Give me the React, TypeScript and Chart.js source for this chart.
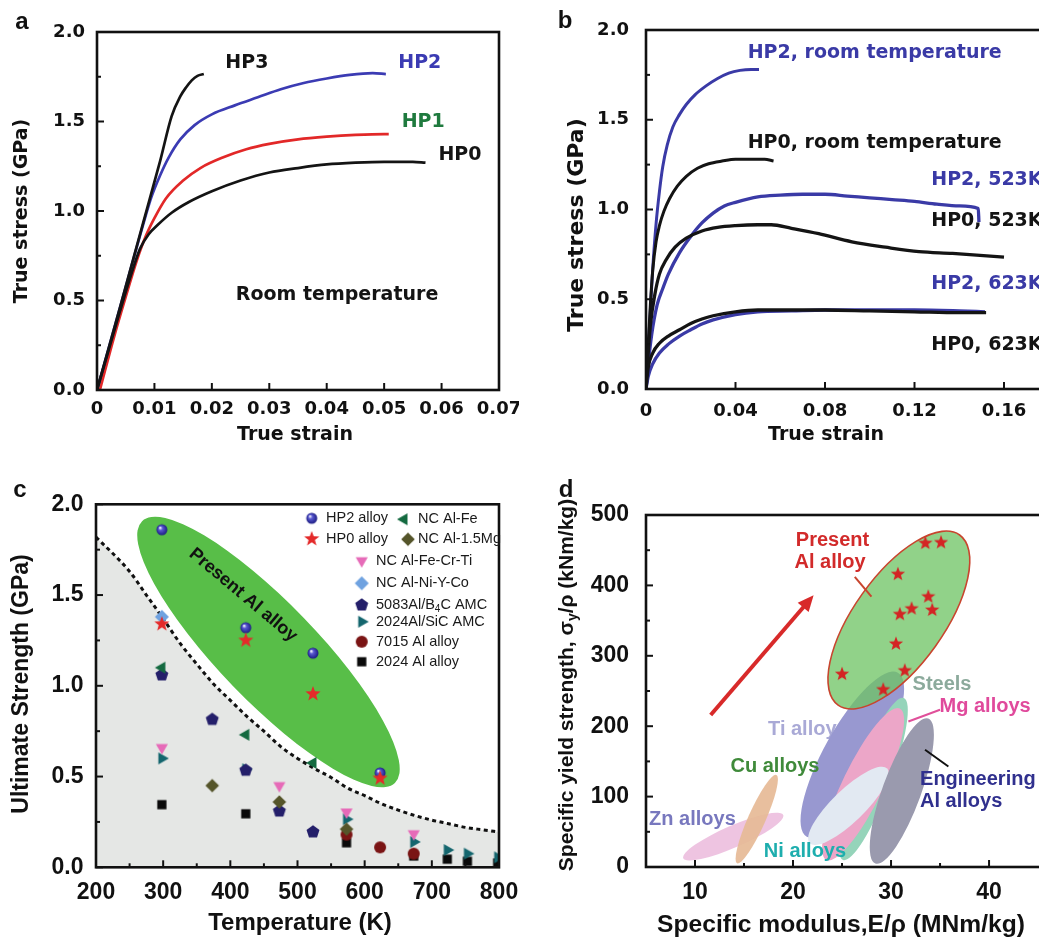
import React, { useEffect, useRef } from 'react';
import { Chart, registerables } from 'chart.js';

Chart.register(...registerables);

const FA = '"DejaVu Sans"';
const FL = '"Liberation Sans"';

// ================= Panel a : room temperature curves =================
const aTicksX = [0, 0.01, 0.02, 0.03, 0.04, 0.05, 0.06, 0.07];
const aTicksY = [0, 0.5, 1.0, 1.5, 2.0];
const aMinorY = [0.25, 0.75, 1.25, 1.75];
const aHP0 = [[0, 0], [0.002, 0.22], [0.004, 0.44], [0.006, 0.65], [0.0075, 0.79], [0.009, 0.87], [0.0105, 0.92], [0.013, 0.99], [0.016, 1.05], [0.02, 1.11], [0.025, 1.17], [0.03, 1.215], [0.035, 1.24], [0.04, 1.26], [0.045, 1.27], [0.05, 1.275], [0.055, 1.275], [0.0572, 1.27]];
const aHP1 = [[0.0005, 0], [0.003, 0.3], [0.005, 0.52], [0.007, 0.73], [0.0085, 0.86], [0.01, 0.96], [0.012, 1.07], [0.015, 1.17], [0.018, 1.24], [0.022, 1.3], [0.026, 1.345], [0.03, 1.375], [0.035, 1.4], [0.04, 1.415], [0.045, 1.425], [0.05, 1.43], [0.0508, 1.43]];
const aHP2 = [[0, 0], [0.004, 0.46], [0.008, 0.92], [0.0095, 1.08], [0.011, 1.2], [0.0125, 1.3], [0.0145, 1.4], [0.017, 1.48], [0.02, 1.54], [0.024, 1.59], [0.028, 1.635], [0.032, 1.68], [0.036, 1.715], [0.04, 1.74], [0.044, 1.76], [0.048, 1.77], [0.0503, 1.765]];
const aHP3 = [[0, 0], [0.004, 0.46], [0.008, 0.93], [0.011, 1.28], [0.013, 1.53], [0.0145, 1.64], [0.0155, 1.69], [0.0165, 1.73], [0.0175, 1.755], [0.0186, 1.765]];

// ================= Panel b : temperature comparison =================
const bTicksX = [0, 0.04, 0.08, 0.12, 0.16];
const bTicksY = [0, 0.5, 1.0, 1.5, 2.0];
const bMinorY = [0.25, 0.75, 1.25, 1.75];
const bHP2RT = [[0, 0], [0.001, 0.22], [0.002, 0.45], [0.003, 0.67], [0.0045, 0.92], [0.006, 1.1], [0.0075, 1.24], [0.0095, 1.36], [0.012, 1.46], [0.015, 1.53], [0.018, 1.585], [0.022, 1.64], [0.027, 1.69], [0.032, 1.73], [0.037, 1.76], [0.042, 1.775], [0.047, 1.78], [0.0505, 1.78]];
const bHP0RT = [[0, 0], [0.001, 0.25], [0.002, 0.48], [0.003, 0.66], [0.0045, 0.82], [0.006, 0.91], [0.008, 0.99], [0.0105, 1.06], [0.014, 1.13], [0.018, 1.185], [0.023, 1.23], [0.028, 1.255], [0.034, 1.27], [0.04, 1.28], [0.047, 1.28], [0.053, 1.28], [0.057, 1.27]];
const bHP2_523 = [[0, 0], [0.001, 0.14], [0.0025, 0.3], [0.005, 0.47], [0.0075, 0.56], [0.01, 0.64], [0.015, 0.76], [0.02, 0.85], [0.025, 0.925], [0.03, 0.98], [0.035, 1.02], [0.04, 1.04], [0.05, 1.07], [0.06, 1.08], [0.07, 1.085], [0.08, 1.085], [0.09, 1.075], [0.1, 1.065], [0.11, 1.055], [0.12, 1.045], [0.13, 1.03], [0.14, 1.02], [0.1485, 1.005], [0.1488, 0.93]];
const bHP0_523 = [[0, 0], [0.001, 0.2], [0.002, 0.36], [0.004, 0.53], [0.006, 0.64], [0.009, 0.72], [0.013, 0.79], [0.018, 0.84], [0.025, 0.88], [0.032, 0.9], [0.04, 0.91], [0.05, 0.915], [0.056, 0.915], [0.065, 0.895], [0.0772, 0.865], [0.092, 0.82], [0.107, 0.79], [0.122, 0.765], [0.137, 0.755], [0.16, 0.735]];
const bHP2_623 = [[0, 0], [0.001, 0.07], [0.003, 0.14], [0.006, 0.2], [0.01, 0.25], [0.015, 0.295], [0.02, 0.33], [0.025, 0.362], [0.03, 0.385], [0.04, 0.415], [0.05, 0.43], [0.065, 0.435], [0.08, 0.44], [0.1, 0.44], [0.12, 0.44], [0.14, 0.435], [0.1515, 0.43]];
const bHP0_623 = [[0, 0], [0.001, 0.12], [0.003, 0.2], [0.006, 0.255], [0.01, 0.295], [0.015, 0.33], [0.02, 0.365], [0.025, 0.39], [0.03, 0.408], [0.04, 0.43], [0.05, 0.44], [0.065, 0.44], [0.08, 0.44], [0.1, 0.435], [0.12, 0.43], [0.14, 0.425], [0.152, 0.425]];

// ================= Panel c : ultimate strength vs temperature =================
const cTicksX = [200, 300, 400, 500, 600, 700, 800];
const cMinorX = [250, 350, 450, 550, 650, 750];
const cTicksY = [0, 0.5, 1.0, 1.5, 2.0];
const cMinorY = [0.25, 0.75, 1.25, 1.75];
const cBoundT = [200, 250, 275, 300, 325, 350, 375, 400, 425, 450, 475, 500, 525, 550, 575, 600, 625, 650, 675, 700, 725, 750, 775, 800];
const cBoundS = [1.82, 1.63, 1.5, 1.37, 1.235, 1.12, 1.01, 0.92, 0.83, 0.75, 0.665, 0.6, 0.545, 0.495, 0.436, 0.395, 0.35, 0.315, 0.285, 0.26, 0.24, 0.22, 0.207, 0.195];
const cHP2T = [298, 423, 523, 623];
const cHP2S = [1.86, 1.32, 1.18, 0.52];
const cHP0T = [298, 423, 523, 623];
const cHP0S = [1.34, 1.25, 0.955, 0.49];
const cAlFeT = [298, 423, 523];
const cAlFeS = [1.1, 0.73, 0.575];
const cAlMgT = [373, 473, 573];
const cAlMgS = [0.45, 0.36, 0.21];
const cFeCrTiT = [298, 473, 573, 673];
const cFeCrTiS = [0.66, 0.45, 0.305, 0.185];
const cNiYCoT = [298];
const cNiYCoS = [1.38];
const c5083T = [298, 373, 423, 473, 523];
const c5083S = [1.06, 0.815, 0.535, 0.31, 0.195];
const cSiCT = [298, 423, 573, 673, 723, 753, 798];
const cSiCS = [0.6, 0.54, 0.265, 0.14, 0.095, 0.075, 0.055];
const c7015T = [573, 623, 673];
const c7015S = [0.18, 0.11, 0.075];
const c2024T = [298, 423, 573, 673, 723, 753, 798];
const c2024S = [0.345, 0.295, 0.135, 0.062, 0.045, 0.033, 0.024];

// ================= Panel d : specific strength vs specific modulus =================
const dTicksX = [10, 20, 30, 40];
const dMinorX = [5, 15, 25, 35];
const dTicksY = [0, 100, 200, 300, 400, 500];
const dMinorY = [50, 150, 250, 350, 450];
const dPresentE = [25.0, 29.2, 31.4, 30.5, 30.9, 32.1, 33.8, 34.2, 30.7, 33.5, 35.1];
const dPresentS = [274, 252, 279, 317, 359, 367, 384, 365, 416, 460, 461];
// property envelopes: [E1, s1, E2, s2, width ratio]
const dZn = [8.8, 12.4, 19.0, 73.9, 0.2];
const dCu = [14.3, 5.3, 18.3, 130.7, 0.18];
const dTi = [21.4, 43, 30.7, 276, 0.3];
const dSteel = [25.1, 10, 31.3, 240, 0.2];
const dMg = [23.4, 10, 30.9, 225, 0.24];
const dNi = [21.7, 33.7, 29.6, 140, 0.3];
const dEngAl = [28.4, 5, 33.8, 211, 0.25];
const dPresentEnv = [24.6, 230, 37.0, 471.6, 0.43];

// ---------------------------------------------------------------------
const xy = (arr: number[][]) => arr.map(([x, y]) => ({ x, y }));
const pts = (xs: number[], ys: number[]) => xs.map((x, i) => ({ x, y: ys[i] }));

function mkCanvas(R: number, fn: (g: CanvasRenderingContext2D, c: number) => void) {
  const size = 2 * Math.ceil(R) + 2;
  const cv = document.createElement('canvas');
  cv.width = size;
  cv.height = size;
  fn(cv.getContext('2d') as CanvasRenderingContext2D, size / 2);
  return cv;
}
function poly(g: CanvasRenderingContext2D, c: number, p: number[][]) {
  g.beginPath();
  p.forEach(([x, y], i) => (i ? g.lineTo(c + x, c + y) : g.moveTo(c + x, c + y)));
  g.closePath();
}
const regular = (n: number, R: number, start: number) =>
  Array.from({ length: n }, (_, k) => {
    const a = start + (k * 2 * Math.PI) / n;
    return [R * Math.cos(a), R * Math.sin(a)];
  });
const starPts = (R: number, r: number) =>
  Array.from({ length: 10 }, (_, k) => {
    const a = -Math.PI / 2 + (k * Math.PI) / 5;
    const rr = k % 2 ? r : R;
    return [rr * Math.cos(a), rr * Math.sin(a)];
  });
const mPoly = (color: string, n: number, R: number, start: number) =>
  mkCanvas(R, (g, c) => {
    poly(g, c, regular(n, R, start));
    g.fillStyle = color;
    g.fill();
  });
const mStar = (color: string, R: number) =>
  mkCanvas(R, (g, c) => {
    poly(g, c, starPts(R, R * 0.42));
    g.fillStyle = color;
    g.fill();
  });
const mCircle = (color: string, R: number) =>
  mkCanvas(R, (g, c) => {
    g.beginPath();
    g.arc(c, c, R, 0, Math.PI * 2);
    g.fillStyle = color;
    g.fill();
  });
const mSphere = (R: number) =>
  mkCanvas(R, (g, c) => {
    const gr = g.createRadialGradient(c - R * 0.35, c - R * 0.4, R * 0.05, c, c, R);
    gr.addColorStop(0, '#ffffff');
    gr.addColorStop(0.35, '#5858d0');
    gr.addColorStop(1, '#1c1c82');
    g.beginPath();
    g.arc(c, c, R, 0, Math.PI * 2);
    g.fillStyle = gr;
    g.fill();
  });

// ---------------------------------------------------------------------
function P(chart: any, x: number, y: number) {
  return [chart.scales.x.getPixelForValue(x), chart.scales.y.getPixelForValue(y)];
}

function drawTxt(chart: any, t: any) {
  const ctx = chart.ctx;
  const [x, y] = t.data ? P(chart, t.x, t.y) : [t.x, t.y];
  ctx.save();
  ctx.translate(x, y);
  if (t.rot) ctx.rotate((t.rot * Math.PI) / 180);
  ctx.fillStyle = t.color || '#111';
  ctx.textBaseline = 'middle';
  ctx.textAlign = 'left';
  const parts = t.parts || [{ t: t.text }];
  const fontOf = (p: any) => (p.sub ? t.subFont : t.font);
  let total = 0;
  const ws = parts.map((p: any) => {
    ctx.font = fontOf(p);
    const w = ctx.measureText(p.t).width;
    total += w;
    return w;
  });
  let cx = t.align === 'left' ? 0 : t.align === 'right' ? -total : -total / 2;
  parts.forEach((p: any, i: number) => {
    ctx.font = fontOf(p);
    ctx.fillText(p.t, cx, p.sub ? t.subDy || 4 : 0);
    cx += ws[i];
  });
  ctx.restore();
}

function drawItem(chart: any, it: any) {
  const ctx = chart.ctx;
  const ca = chart.chartArea;
  ctx.save();
  if (it.kind === 'ell') {
    ctx.beginPath();
    ctx.rect(ca.left, ca.top, ca.right - ca.left, ca.bottom - ca.top);
    ctx.clip();
    const e = it.env;
    const [x1, y1] = P(chart, e[0], e[1]);
    const [x2, y2] = P(chart, e[2], e[3]);
    const a = Math.hypot(x2 - x1, y2 - y1) / 2;
    ctx.beginPath();
    ctx.ellipse((x1 + x2) / 2, (y1 + y2) / 2, a, a * e[4], Math.atan2(y2 - y1, x2 - x1), 0, Math.PI * 2);
    ctx.fillStyle = it.fill;
    ctx.fill();
    if (it.stroke) {
      ctx.strokeStyle = it.stroke;
      ctx.lineWidth = it.lw || 1.5;
      ctx.stroke();
    }
  } else if (it.kind === 'line' || it.kind === 'arrow') {
    const [x1, y1] = P(chart, it.p1[0], it.p1[1]);
    const [x2, y2] = P(chart, it.p2[0], it.p2[1]);
    const ang = Math.atan2(y2 - y1, x2 - x1);
    const head = it.kind === 'arrow' ? it.head : 0;
    ctx.strokeStyle = it.color;
    ctx.fillStyle = it.color;
    ctx.lineWidth = it.lw;
    ctx.beginPath();
    ctx.moveTo(x1, y1);
    ctx.lineTo(x2 - Math.cos(ang) * head * 0.8, y2 - Math.sin(ang) * head * 0.8);
    ctx.stroke();
    if (head) {
      ctx.beginPath();
      ctx.moveTo(x2, y2);
      ctx.lineTo(x2 - Math.cos(ang) * head - Math.sin(ang) * head * 0.45, y2 - Math.sin(ang) * head + Math.cos(ang) * head * 0.45);
      ctx.lineTo(x2 - Math.cos(ang) * head + Math.sin(ang) * head * 0.45, y2 - Math.sin(ang) * head - Math.cos(ang) * head * 0.45);
      ctx.closePath();
      ctx.fill();
    }
  } else if (it.kind === 'txt') {
    drawTxt(chart, it);
  }
  ctx.restore();
}

function makeDecor(cfg: any) {
  return {
    id: 'decor',
    beforeDatasetsDraw(chart: any) {
      (cfg.under || []).forEach((it: any) => drawItem(chart, it));
    },
    afterDatasetDraw(chart: any, args: any) {
      if (cfg.afterFill && args.index === cfg.afterFill.index) cfg.afterFill.items.forEach((it: any) => drawItem(chart, it));
    },
    afterDraw(chart: any) {
      const ctx = chart.ctx;
      const ca = chart.chartArea;
      const xs = chart.scales.x;
      const ys = chart.scales.y;
      ctx.save();
      ctx.strokeStyle = '#111';
      ctx.lineWidth = 2;
      const tk = cfg.ticks;
      const drawX = (vals: number[], len: number) =>
        vals.forEach((v) => {
          const x = xs.getPixelForValue(v);
          ctx.beginPath();
          ctx.moveTo(x, ca.bottom);
          ctx.lineTo(x, ca.bottom - len);
          ctx.stroke();
        });
      const drawY = (vals: number[], len: number) =>
        vals.forEach((v) => {
          const y = ys.getPixelForValue(v);
          ctx.beginPath();
          ctx.moveTo(ca.left, y);
          ctx.lineTo(ca.left + len, y);
          ctx.stroke();
        });
      drawX(tk.xMajor, 7);
      drawX(tk.xMinor, 4);
      drawY(tk.yMajor, 7);
      drawY(tk.yMinor, 4);
      ctx.lineWidth = 2.6;
      ctx.strokeRect(ca.left, ca.top, ca.right - ca.left, ca.bottom - ca.top);
      ctx.restore();
      (cfg.over || []).forEach((it: any) => drawItem(chart, it));
      (cfg.legend || []).forEach((l: any) => {
        const mx = ca.left + l.mx;
        const my = ca.top + l.y;
        ctx.drawImage(l.m, mx - l.m.width / 2, my - l.m.height / 2);
        drawTxt(chart, { ...l.txt, x: ca.left + l.tx, y: my, align: 'left' });
      });
    },
  };
}

function buildScales(o: any) {
  return {
    x: {
      type: 'linear',
      position: 'bottom',
      min: o.xMin,
      max: o.xMax,
      afterBuildTicks: (s: any) => {
        s.ticks = o.xTicks.map((v: number) => ({ value: v }));
      },
      ticks: { callback: o.xFmt, font: o.font, color: '#111', padding: o.xPad, maxRotation: 0, minRotation: 0, autoSkip: false },
      grid: { display: false, drawTicks: false },
      border: { display: false },
      afterFit: (s: any) => {
        s.height = o.xH;
        s.paddingLeft = 0;
        s.paddingRight = 0;
      },
    },
    y: {
      type: 'linear',
      position: 'left',
      min: o.yMin,
      max: o.yMax,
      afterBuildTicks: (s: any) => {
        s.ticks = o.yTicks.map((v: number) => ({ value: v }));
      },
      ticks: { callback: o.yFmt, font: o.font, color: '#111', padding: o.yPad, autoSkip: false },
      grid: { display: false, drawTicks: false },
      border: { display: false },
      afterFit: (s: any) => {
        s.width = o.yW;
        s.paddingTop = 0;
        s.paddingBottom = 0;
      },
    },
  };
}

const baseOptions = (padding: any, scales: any) => ({
  responsive: false,
  maintainAspectRatio: false,
  animation: false,
  events: [],
  layout: { padding, autoPadding: false },
  plugins: { legend: { display: false }, tooltip: { enabled: false }, title: { display: false } },
  scales,
});

const curve = (data: number[][], color: string, width: number) => ({
  data: xy(data),
  showLine: true,
  borderColor: color,
  borderWidth: width,
  pointRadius: 0,
  fill: false,
  cubicInterpolationMode: 'monotone',
});

const BLACK = '#141414';
const BLUE_A = '#3b3bb3';
const RED_A = '#e22828';
const BLUE_B = '#3a3aa6';

function makeA() {
  const tf = { family: FA, size: 18, weight: 'bold' };
  const lab = `bold 19px ${FA}`;
  const decor = makeDecor({
    ticks: { xMajor: aTicksX, xMinor: [], yMajor: aTicksY, yMinor: aMinorY },
    over: [
      { kind: 'txt', text: 'a', x: 22, y: 22, font: `bold 24px ${FL}` },
      { kind: 'txt', text: 'True strain', x: 295, y: 435, font: lab },
      { kind: 'txt', text: 'True stress (GPa)', x: 22, y: 211, rot: -90, font: lab },
      { kind: 'txt', text: 'HP3', data: true, x: 0.0261, y: 1.827, font: lab, color: BLACK },
      { kind: 'txt', text: 'HP2', data: true, x: 0.0562, y: 1.827, font: lab, color: BLUE_A },
      { kind: 'txt', text: 'HP1', data: true, x: 0.0568, y: 1.497, font: lab, color: '#1f7a3e' },
      { kind: 'txt', text: 'HP0', data: true, x: 0.0632, y: 1.313, font: lab, color: BLACK },
      { kind: 'txt', text: 'Room temperature', data: true, x: 0.0418, y: 0.531, font: lab, color: BLACK },
    ],
  });
  return {
    type: 'scatter',
    data: {
      datasets: [curve(aHP3, BLACK, 2.7), curve(aHP0, BLACK, 2.7), curve(aHP2, BLUE_A, 2.7), curve(aHP1, RED_A, 2.7)],
    },
    options: baseOptions(
      { left: 0, top: 32, right: 20, bottom: 0 },
      buildScales({
        xMin: 0, xMax: 0.07, xTicks: aTicksX, xFmt: (v: number) => (v === 0 ? '0' : v.toFixed(2)),
        yMin: 0, yMax: 2, yTicks: aTicksY, yFmt: (v: number) => v.toFixed(1),
        font: tf, xPad: 9, yPad: 12, yW: 97, xH: 79,
      })
    ),
    plugins: [decor],
  };
}

function makeB() {
  const tf = { family: FA, size: 18, weight: 'bold' };
  const lab = `bold 19px ${FA}`;
  const decor = makeDecor({
    ticks: { xMajor: bTicksX, xMinor: [], yMajor: bTicksY, yMinor: bMinorY },
    over: [
      { kind: 'txt', text: 'b', x: 46, y: 21, font: `bold 24px ${FL}` },
      { kind: 'txt', text: 'True strain', x: 307, y: 435, font: lab },
      { kind: 'txt', text: 'True stress (GPa)', x: 58, y: 225, rot: -90, font: `bold 22px ${FA}` },
      { kind: 'txt', text: 'HP2, room temperature', data: true, x: 0.1022, y: 1.87, font: lab, color: BLUE_B },
      { kind: 'txt', text: 'HP0, room temperature', data: true, x: 0.1022, y: 1.369, font: lab, color: BLACK },
      { kind: 'txt', text: 'HP2, 523K', data: true, x: 0.1275, y: 1.164, font: lab, color: BLUE_B, align: 'left' },
      { kind: 'txt', text: 'HP0, 523K', data: true, x: 0.1275, y: 0.936, font: lab, color: BLACK, align: 'left' },
      { kind: 'txt', text: 'HP2, 623K', data: true, x: 0.1275, y: 0.585, font: lab, color: BLUE_B, align: 'left' },
      { kind: 'txt', text: 'HP0, 623K', data: true, x: 0.1275, y: 0.245, font: lab, color: BLACK, align: 'left' },
    ],
  });
  return {
    type: 'scatter',
    data: {
      datasets: [
        curve(bHP0_623, BLACK, 3.3),
        curve(bHP2_623, BLUE_B, 3.3),
        curve(bHP0_523, BLACK, 3.3),
        curve(bHP2_523, BLUE_B, 3.3),
        curve(bHP0RT, BLACK, 3),
        curve(bHP2RT, BLUE_B, 3),
      ],
    },
    options: baseOptions(
      { left: 0, top: 30, right: 30.25, bottom: 0 },
      buildScales({
        xMin: 0, xMax: 0.18, xTicks: bTicksX, xFmt: (v: number) => (v === 0 ? '0' : v.toFixed(2)),
        yMin: 0, yMax: 2, yTicks: bTicksY, yFmt: (v: number) => v.toFixed(1),
        font: tf, xPad: 12, yPad: 17, yW: 127, xH: 80,
      })
    ),
    plugins: [decor],
  };
}

function makeC() {
  const tf = { family: FL, size: 23, weight: 'bold' };
  const m = {
    sphere: mSphere(5.5),
    star: mStar('#e42a2a', 8),
    feL: mPoly('#146a40', 3, 7, Math.PI),
    mgD: mPoly('#55552a', 4, 6.8, -Math.PI / 2),
    ftD: mPoly('#e66bb8', 3, 7, Math.PI / 2),
    niD: mPoly('#6fa2e0', 4, 7, -Math.PI / 2),
    pent: mPoly('#241f6a', 5, 6.8, -Math.PI / 2),
    sicR: mPoly('#14666e', 3, 7, 0),
    c7015: mCircle('#7a1414', 6),
    sq: mPoly('#0a0a0a', 4, 6.5, Math.PI / 4),
  };
  const lf = `14.5px ${FL}`;
  const lt = (text: string) => ({ text, font: lf, color: '#1a1a1a' });
  const scat = (label: string, data: any, style: any, order: number) => ({
    label, data, pointStyle: style, pointRadius: 5, showLine: false, order,
  });
  const decor = makeDecor({
    ticks: { xMajor: cTicksX, xMinor: cMinorX, yMajor: cTicksY, yMinor: cMinorY },
    afterFill: {
      index: 0,
      items: [
        { kind: 'ell', env: [268.6, 1.907, 645.0, 0.465, 0.27], fill: '#58be48' },
        { kind: 'txt', text: 'Present Al alloy', data: true, x: 419, y: 1.5, rot: 40, font: `bold 18px ${FL}`, color: '#111' },
      ],
    },
    over: [
      { kind: 'txt', text: 'c', x: 20, y: 21, font: `bold 24px ${FL}` },
      { kind: 'txt', text: 'Temperature (K)', x: 300, y: 454, font: `bold 24px ${FL}` },
      { kind: 'txt', text: 'Ultimate Strength (GPa)', x: 22, y: 215, rot: -90, font: `bold 23px ${FL}` },
    ],
    legend: [
      { m: m.sphere, mx: 215.7, tx: 230, y: 14, txt: lt('HP2 alloy') },
      { m: m.feL, mx: 308, tx: 322, y: 15, txt: lt('NC Al-Fe') },
      { m: m.star, mx: 215.7, tx: 230, y: 34.7, txt: lt('HP0 alloy') },
      { m: m.mgD, mx: 312, tx: 322, y: 35, txt: lt('NC Al-1.5Mg') },
      { m: m.ftD, mx: 265.7, tx: 280, y: 56.4, txt: lt('NC Al-Fe-Cr-Ti') },
      { m: m.niD, mx: 265.7, tx: 280, y: 79, txt: lt('NC Al-Ni-Y-Co') },
      {
        m: m.pent, mx: 265.7, tx: 280, y: 100.7,
        txt: { parts: [{ t: '5083Al/B' }, { t: '4', sub: true }, { t: 'C AMC' }], font: lf, subFont: `10px ${FL}`, subDy: 4, color: '#1a1a1a' },
      },
      { m: m.sicR, mx: 265.7, tx: 280, y: 117.4, txt: lt('2024Al/SiC AMC') },
      { m: m.c7015, mx: 265.7, tx: 280, y: 137.4, txt: lt('7015 Al alloy') },
      { m: m.sq, mx: 265.7, tx: 280, y: 157.4, txt: lt('2024 Al alloy') },
    ],
  });
  return {
    type: 'scatter',
    data: {
      datasets: [
        {
          label: 'region', data: pts(cBoundT, cBoundS), showLine: true, borderWidth: 0, borderColor: 'rgba(0,0,0,0)',
          pointRadius: 0, fill: 'origin', backgroundColor: '#e5e7e5', cubicInterpolationMode: 'monotone', order: 20,
        },
        {
          label: 'bound', data: pts(cBoundT, cBoundS), showLine: true, borderWidth: 3, borderColor: '#111',
          borderDash: [4, 3.5], pointRadius: 0, fill: false, cubicInterpolationMode: 'monotone', order: 19,
        },
        scat('2024 Al alloy', pts(c2024T, c2024S), m.sq, 10),
        scat('7015 Al alloy', pts(c7015T, c7015S), m.c7015, 9),
        scat('2024Al/SiC AMC', pts(cSiCT, cSiCS), m.sicR, 8),
        scat('5083Al/B4C AMC', pts(c5083T, c5083S), m.pent, 7),
        scat('NC Al-Ni-Y-Co', pts(cNiYCoT, cNiYCoS), m.niD, 6),
        scat('NC Al-Fe-Cr-Ti', pts(cFeCrTiT, cFeCrTiS), m.ftD, 5),
        scat('NC Al-1.5Mg', pts(cAlMgT, cAlMgS), m.mgD, 4),
        scat('NC Al-Fe', pts(cAlFeT, cAlFeS), m.feL, 3),
        scat('HP2 alloy', pts(cHP2T, cHP2S), m.sphere, 2),
        scat('HP0 alloy', pts(cHP0T, cHP0S), m.star, 1),
      ],
    },
    options: baseOptions(
      { left: 0, top: 35.3, right: 20, bottom: 0 },
      buildScales({
        xMin: 200, xMax: 800, xTicks: cTicksX, xFmt: (v: number) => String(v),
        yMin: 0, yMax: 2, yTicks: cTicksY, yFmt: (v: number) => v.toFixed(1),
        font: tf, xPad: 12, yPad: 12.5, yW: 96, xH: 71.7,
      })
    ),
    plugins: [decor],
  };
}

function makeD() {
  const tf = { family: FL, size: 23, weight: 'bold' };
  const lf = `bold 20px ${FL}`;
  const star = mStar('#d42424', 7.5);
  const decor = makeDecor({
    ticks: { xMajor: dTicksX, xMinor: dMinorX, yMajor: dTicksY, yMinor: dMinorY },
    under: [
      { kind: 'ell', env: dZn, fill: 'rgba(236,190,222,0.9)' },
      { kind: 'ell', env: dCu, fill: 'rgba(230,186,150,0.92)' },
      { kind: 'txt', text: 'Ti alloys', data: true, x: 17.45, y: 195, align: 'left', font: lf, color: '#a9a9d6' },
      { kind: 'ell', env: dTi, fill: '#9898d0' },
      { kind: 'ell', env: dSteel, fill: '#95d4ba' },
      { kind: 'ell', env: dMg, fill: '#eca6c8' },
      { kind: 'ell', env: dNi, fill: '#e2e9f2' },
      { kind: 'ell', env: dEngAl, fill: '#9a9aae' },
      { kind: 'ell', env: dPresentEnv, fill: 'rgba(110,196,100,0.76)', stroke: '#c8452e', lw: 1.6 },
      { kind: 'line', p1: [26.3, 412], p2: [28.0, 384], color: '#c8452e', lw: 2 },
      { kind: 'line', p1: [31.77, 206.6], p2: [35.0, 223.3], color: '#e0509a', lw: 2 },
      { kind: 'line', p1: [33.47, 166.5], p2: [35.85, 142.8], color: '#111', lw: 2 },
      { kind: 'arrow', p1: [11.6, 216], p2: [22.1, 386], color: '#d82a2a', lw: 4, head: 16 },
    ],
    over: [
      { kind: 'txt', text: 'd', x: 47, y: 21, font: `bold 24px ${FL}` },
      { kind: 'txt', text: 'Specific modulus,E/\u03c1 (MNm/kg)', x: 322, y: 456, font: `bold 24.6px ${FL}` },
      {
        kind: 'txt', x: 48, y: 216, rot: -90, font: `bold 21px ${FL}`, subFont: `bold 14px ${FL}`, subDy: 6,
        parts: [{ t: 'Specific yield strength, \u03c3' }, { t: 'y', sub: true }, { t: '/\u03c1 (kNm/kg)' }],
      },
      { kind: 'txt', text: 'Present', data: true, x: 24.03, y: 464.5, font: lf, color: '#d22a2a' },
      { kind: 'txt', text: 'Al alloy', data: true, x: 23.78, y: 431.9, font: lf, color: '#d22a2a' },
      { kind: 'txt', text: 'Steels', data: true, x: 35.2, y: 258.7, font: lf, color: '#8caa9c' },
      { kind: 'txt', text: 'Mg alloys', data: true, x: 39.6, y: 227.5, font: lf, color: '#e04a9c' },
      { kind: 'txt', text: 'Cu alloys', data: true, x: 18.16, y: 142.8, font: lf, color: '#3f8a3a' },
      { kind: 'txt', text: 'Zn alloys', data: true, x: 9.74, y: 67.1, font: lf, color: '#7878be' },
      { kind: 'txt', text: 'Ni alloys', data: true, x: 21.22, y: 22.1, font: lf, color: '#1eaeae' },
      { kind: 'txt', text: 'Engineering', data: true, x: 32.96, y: 123.9, align: 'left', font: lf, color: '#30308e' },
      { kind: 'txt', text: 'Al alloys', data: true, x: 32.96, y: 93.1, align: 'left', font: lf, color: '#30308e' },
    ],
  });
  return {
    type: 'scatter',
    data: {
      datasets: [{ label: 'Present Al alloy', data: pts(dPresentE, dPresentS), pointStyle: star, pointRadius: 5, showLine: false }],
    },
    options: baseOptions(
      { left: 0, top: 46, right: 38, bottom: 0 },
      buildScales({
        xMin: 5, xMax: 45.3, xTicks: dTicksX, xFmt: (v: number) => String(v),
        yMin: 0, yMax: 500, yTicks: dTicksY, yFmt: (v: number) => String(v),
        font: tf, xPad: 12, yPad: 17, yW: 127, xH: 72,
      })
    ),
    plugins: [decor],
  };
}

function Panel({ left, top, width, height, make }: any) {
  const ref = useRef<HTMLCanvasElement>(null);
  useEffect(() => {
    const chart = new Chart(ref.current as HTMLCanvasElement, make());
    return () => chart.destroy();
  }, []);
  return (
    <div style={{ position: 'absolute', left, top, width, height }}>
      <canvas ref={ref} width={width} height={height} style={{ width, height, display: 'block' }} />
    </div>
  );
}

export default function App() {
  return (
    <div style={{ position: 'fixed', left: 0, top: 0, width: 1039, height: 939, overflow: 'hidden', background: '#fff' }}>
      <Panel left={0} top={0} width={519} height={469} make={makeA} />
      <Panel left={519} top={0} width={560} height={469} make={makeB} />
      <Panel left={0} top={469} width={519} height={470} make={makeC} />
      <Panel left={519} top={469} width={560} height={470} make={makeD} />
    </div>
  );
}
